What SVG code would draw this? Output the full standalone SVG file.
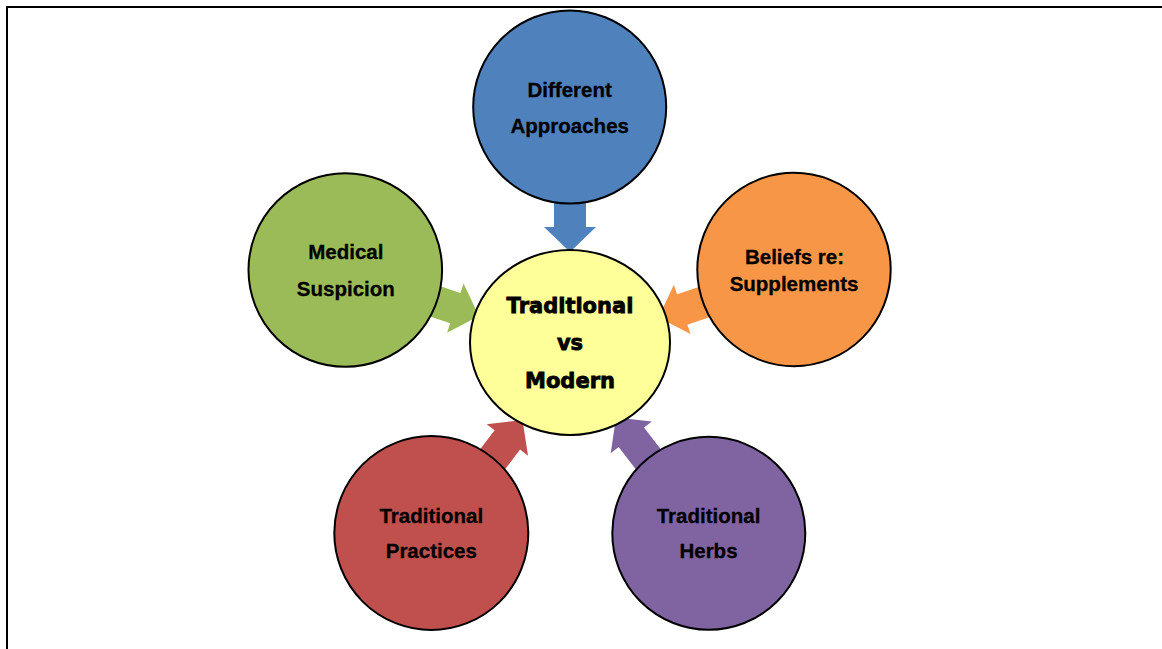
<svg xmlns="http://www.w3.org/2000/svg" xmlns:xlink="http://www.w3.org/1999/xlink" width="1162" height="649" viewBox="0 0 1162 649">
<style>
.node{stroke:#000;stroke-width:2}
.lbl{font-family:"Liberation Sans",Arial,sans-serif;font-weight:bold;font-size:20.5px;fill:#000;stroke:#000;stroke-width:0.3;text-anchor:middle}
.ctr{font-family:"DejaVu Sans","Liberation Sans",sans-serif;font-weight:bold;font-size:21px;fill:#000;stroke:#000;stroke-width:0.8;text-anchor:middle}
</style>
<defs>
<path id="arr" d="M0,0 L-25,-26 L-25,-16 L-70,-16 L-70,16 L-25,16 L-25,26 Z"/>
</defs>
<rect width="1162" height="649" fill="#fff"/>
<path d="M7,649 V7 H1162" fill="none" stroke="#000" stroke-width="2"/>
<g id="connectors">
<use xlink:href="#arr" href="#arr" fill="#4F81BD" transform="translate(570,252) rotate(90)"/>
<use xlink:href="#arr" href="#arr" fill="#9BBB59" transform="translate(479,316) rotate(18.5)"/>
<use xlink:href="#arr" href="#arr" fill="#F79646" transform="translate(658.5,317.5) rotate(161.3)"/>
<use xlink:href="#arr" href="#arr" fill="#C0504D" transform="translate(522.5,420) rotate(-52.7)"/>
<use xlink:href="#arr" href="#arr" fill="#8064A2" transform="translate(616,417.5) rotate(-127.7)"/>
</g>
<g id="center">
<ellipse class="node" cx="570" cy="342.5" rx="100" ry="92.5" fill="#FFFF99"/>
<text class="ctr" x="570" y="312.7">Traditional</text>
<text class="ctr" x="570" y="350">vs</text>
<text class="ctr" x="570" y="388.3">Modern</text>
</g>
<g id="different-approaches">
<circle class="node" cx="569.7" cy="107" r="96.5" fill="#4F81BD"/>
<text class="lbl" x="569.7" y="97">Different</text>
<text class="lbl" x="569.7" y="133">Approaches</text>
</g>
<g id="medical-suspicion">
<circle class="node" cx="345.3" cy="270" r="96.8" fill="#9BBB59"/>
<text class="lbl" x="345.8" y="259.3">Medical</text>
<text class="lbl" x="345.8" y="295.5">Suspicion</text>
</g>
<g id="beliefs-supplements">
<circle class="node" cx="794" cy="269.5" r="96.7" fill="#F79646"/>
<text class="lbl" x="794.5" y="264">Beliefs re:</text>
<text class="lbl" x="794" y="291">Supplements</text>
</g>
<g id="traditional-practices">
<circle class="node" cx="431.3" cy="533" r="97" fill="#C0504D"/>
<text class="lbl" x="431.3" y="522.7">Traditional</text>
<text class="lbl" x="431.3" y="558.3">Practices</text>
</g>
<g id="traditional-herbs">
<circle class="node" cx="708.8" cy="533.3" r="96.5" fill="#8064A2"/>
<text class="lbl" x="708.5" y="522.7">Traditional</text>
<text class="lbl" x="708.5" y="558.3">Herbs</text>
</g>
</svg>
